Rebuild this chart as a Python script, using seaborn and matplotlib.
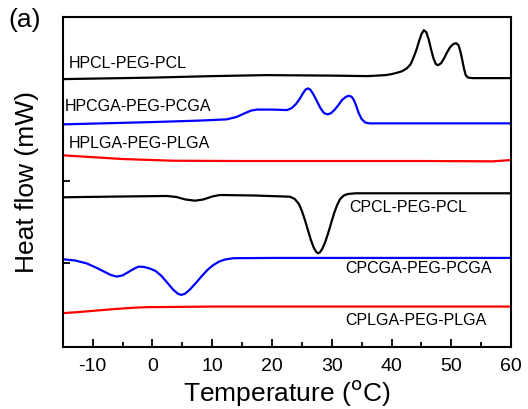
import numpy as np
import pandas as pd
import matplotlib
matplotlib.use("Agg")
import matplotlib.pyplot as plt
import seaborn as sns

# DSC curves, heat flow in arbitrary offset units (mW, stacked)
hpcl_t = [-15, 0, 10, 19, 30, 36, 39, 40, 41, 41.8, 42.6, 43.2, 43.7, 44.2, 44.6, 45.0, 45.4, 45.8, 46.2, 46.6,
          47.0, 47.4, 47.8, 48.3, 48.8, 49.3, 49.8, 50.3, 50.8, 51.2, 51.5, 51.8, 52.1, 52.4, 52.8, 53.5, 60]
hpcl_y = [268, 269.5, 271, 272, 271.5, 271, 272, 273, 274.5, 276, 279, 283, 290, 298, 306, 313, 317, 315, 308, 298,
          289, 283, 282, 284, 289, 295, 300, 303, 304, 302, 296, 288, 279, 272, 269.5, 269, 269]

hpcga_t = [-15, 0, 8, 12.4, 14, 15.5, 16.5, 17.5, 20, 22.5, 23.3, 24, 24.6, 25.2, 25.6, 26, 26.4, 26.9, 27.5, 28.1,
           28.7, 29.3, 29.9, 30.5, 31.1, 31.7, 32.3, 32.8, 33.3, 33.7, 34.1, 34.5, 35.0, 35.6, 36.3, 45, 60]
hpcga_y = [222.7, 225, 226.5, 227.7, 230, 234, 236.5, 237.5, 237.5, 237, 239, 243, 248, 254, 257.5, 258.7, 257.5, 253, 246, 239,
           234, 232.7, 234, 237.5, 242, 247, 250, 251.3, 250.5, 247, 241, 234, 228, 224.5, 223.7, 223.7, 223.7]

hplga_t = [-15, -5, 3.5, 15, 30, 45, 57, 60]
hplga_y = [191.7, 188, 186.3, 186, 186, 186, 185.7, 187]

cpcl_t = [-15, -5, 2.4, 4, 5.5, 7.1, 8.5, 10, 11.3, 17, 23, 23.8, 24.5, 25, 25.5, 26, 26.5, 27, 27.4, 27.7,
          28, 28.4, 28.9, 29.4, 29.9, 30.4, 30.9, 31.4, 32, 32.7, 34, 60]
cpcl_y = [149.7, 150.5, 151, 150, 147.5, 146.3, 147.5, 150.5, 152, 151.5, 150.3, 148, 143, 136, 127, 117, 107, 99, 95, 93.7,
          94.5, 98, 105, 114, 124, 134, 142, 148, 151.5, 153, 153.7, 153.7]

cpcga_t = [-15, -13, -11, -9.5, -8, -7, -6, -5, -4, -3, -2.3, -1.5, -0.5, 0.5, 1.5, 2.5, 3.5, 4.3, 4.8, 5.4,
           6.2, 7.2, 8.2, 9.2, 10.2, 11.2, 12.2, 13.5, 20, 60]
cpcga_y = [87.7, 86.5, 83.5, 79.5, 75, 72, 70.3, 71.5, 75, 78.5, 80.3, 80, 78.5, 76, 71, 64, 57, 53, 52, 53,
           57, 63.5, 70.5, 77, 82, 85.5, 87.5, 88.7, 89, 89]

cplga_t = [-15, -12, -9, -6, -3, -1, 10, 60]
cplga_y = [33.7, 35, 36.5, 38, 39.2, 39.7, 40.3, 40.3]

series = [
    ("HPCL-PEG-PCL", hpcl_t, hpcl_y, "black"),
    ("HPCGA-PEG-PCGA", hpcga_t, hpcga_y, "#0000ff"),
    ("HPLGA-PEG-PLGA", hplga_t, hplga_y, "#ff0000"),
    ("CPCL-PEG-PCL", cpcl_t, cpcl_y, "black"),
    ("CPCGA-PEG-PCGA", cpcga_t, cpcga_y, "#0000ff"),
    ("CPLGA-PEG-PLGA", cplga_t, cplga_y, "#ff0000"),
]

sns.set_style("ticks")
plt.rcParams["font.family"] = ["Liberation Sans", "DejaVu Sans"]
plt.rcParams["axes.unicode_minus"] = False
for k in ["text.color", "axes.labelcolor", "xtick.color", "ytick.color", "axes.edgecolor"]:
    plt.rcParams[k] = "black"

fig = plt.figure(figsize=(5.28, 4.09), dpi=100)
ax = fig.add_axes([0.119, 0.152, 0.849, 0.806])

for name, t, y, c in series:
    df = pd.DataFrame({"Temperature": t, "Heat flow": y})
    sns.lineplot(data=df, x="Temperature", y="Heat flow", color=c, lw=1.6, ax=ax)

# curve labels
ax.text(-14, 284, "HPCL-PEG-PCL", fontsize=11.5, va="center", ha="left")
ax.text(-14.6, 241, "HPCGA-PEG-PCGA", fontsize=11.5, va="center", ha="left")
ax.text(-14, 204, "HPLGA-PEG-PLGA", fontsize=11.5, va="center", ha="left")
ax.text(33, 139, "CPCL-PEG-PCL", fontsize=11.5, va="center", ha="left")
ax.text(32.2, 78, "CPCGA-PEG-PCGA", fontsize=11.5, va="center", ha="left")
ax.text(32.2, 26, "CPLGA-PEG-PLGA", fontsize=11.5, va="center", ha="left")

ax.set_xlim(-15, 60)
ax.set_ylim(0, 330)
ax.set_xticks(np.arange(-10, 61, 10))
ax.set_xticks(np.arange(-15, 61, 5), minor=True)
ax.set_yticks([84, 166])
ax.set_yticklabels([])
ax.tick_params(axis="both", which="both", direction="in", top=False, right=False, width=1.3)
ax.tick_params(axis="x", which="major", length=6, labelsize=14, pad=8)
ax.tick_params(axis="x", which="minor", length=3.5)
ax.tick_params(axis="y", length=5)
for s in ax.spines.values():
    s.set_linewidth(1.5)

ax.set_xlabel("Temperature ($^{\\mathrm{o}}$C)", fontsize=19, labelpad=2)
ax.set_ylabel("Heat flow (mW)", fontsize=19, labelpad=14)
fig.text(0.015, 0.95, "(a)", fontsize=19, va="center", ha="left")

fig.savefig("out.png", dpi=100)
